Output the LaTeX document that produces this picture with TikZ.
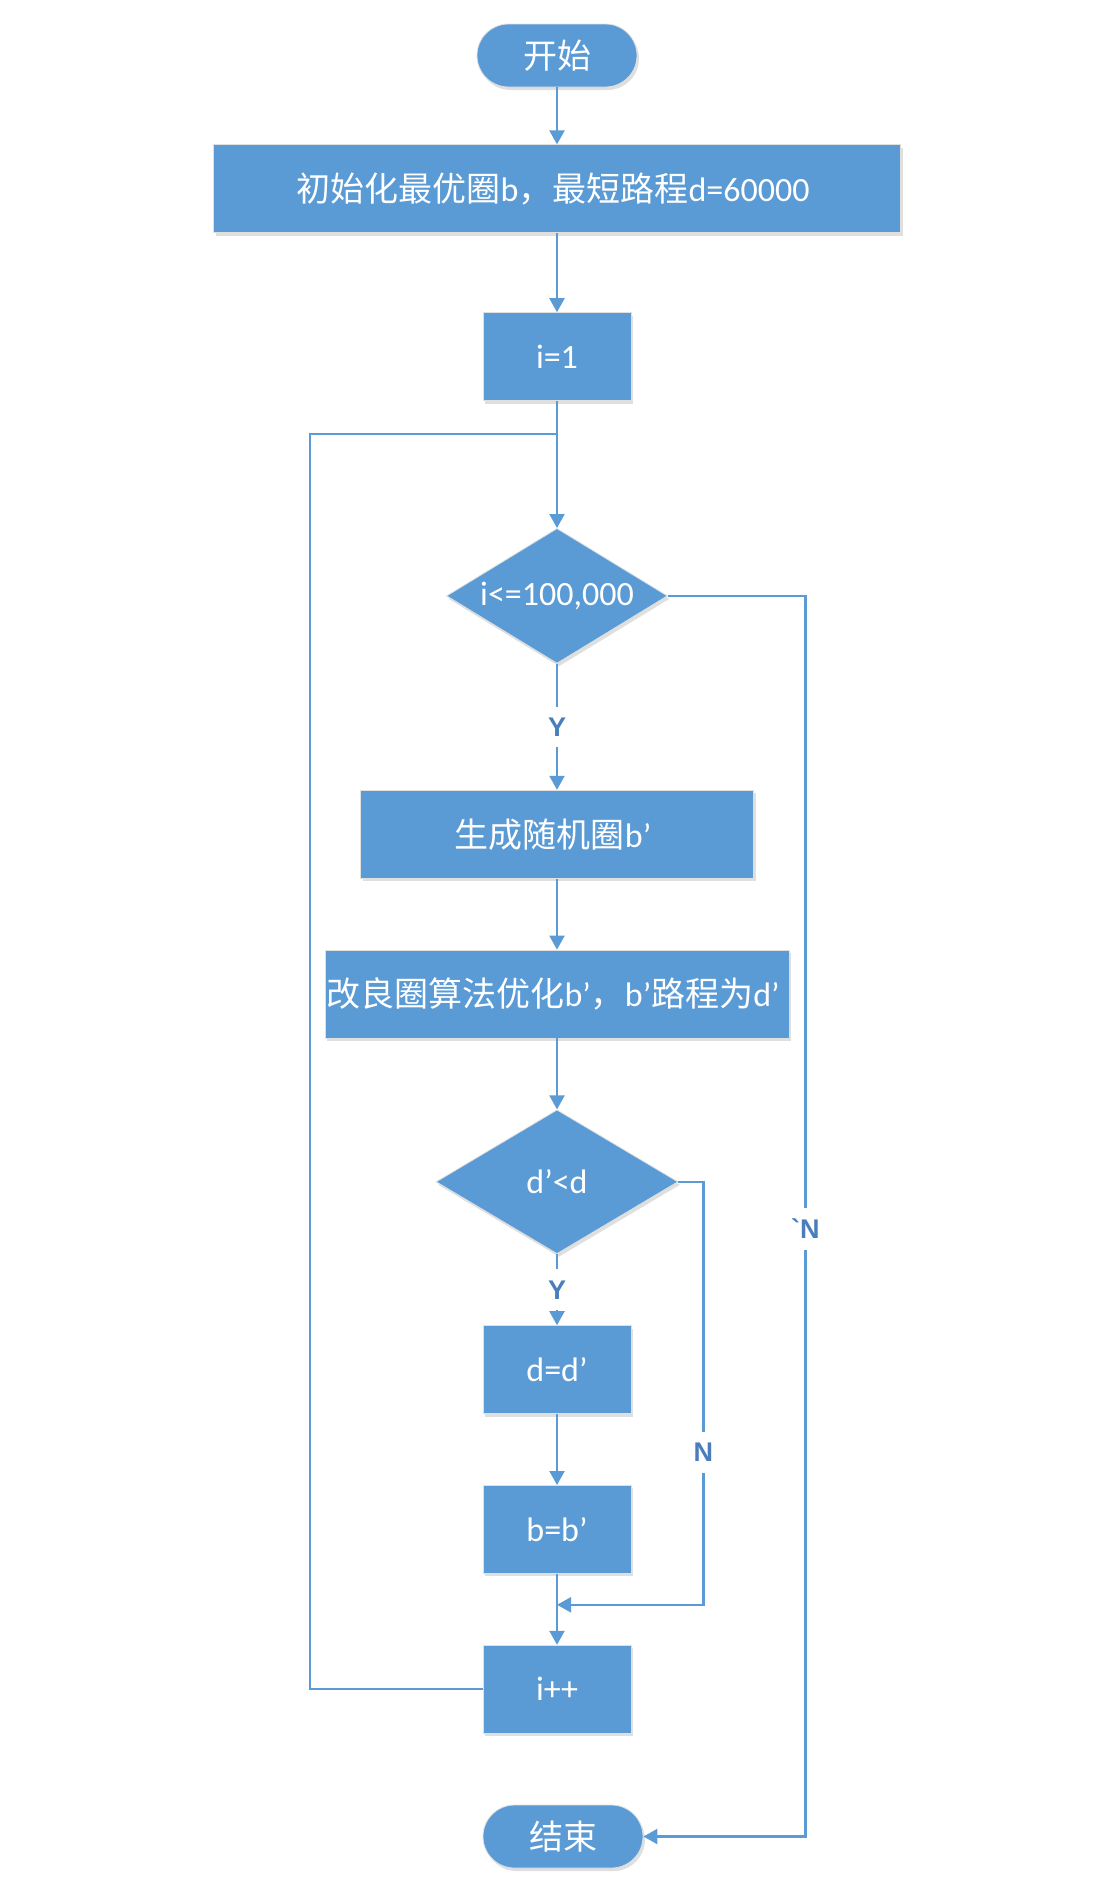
\documentclass[tikz,border=0pt]{standalone}
\usepackage{fontspec}
\setmainfont{Carlito}
\newfontfamily\cjk{Noto Sans CJK SC}
\newfontfamily\labfont{Liberation Sans}
\usetikzlibrary{arrows.meta, positioning, shapes.geometric, shadows, calc}
\definecolor{flowblue}{HTML}{5B9BD5}
\definecolor{labelblue}{HTML}{4A7EBB}

\begin{document}
\begin{tikzpicture}[
    font=\fontsize{34pt}{40pt}\selectfont,
    node distance=71pt,
    box/.style={
        draw=black!12,
        fill=flowblue,
        text=white,
        rectangle,
        minimum height=88pt,
        align=center,
        inner sep=0pt,
        line width=0.8pt,
        drop shadow={shadow xshift=2pt, shadow yshift=-3pt, opacity=0.25}
    },
    stepbox/.style={
        box,
        minimum width=148pt
    },
    terminal/.style={
        box,
        rounded corners=31.5pt,
        minimum width=160pt,
        minimum height=63pt
    },
    decision/.style={
        box,
        diamond
    },
    arrow/.style={
        -{Triangle[length=14pt,width=15pt]},
        line width=2.2pt,
        draw=flowblue
    },
    line/.style={
        line width=2.2pt,
        draw=flowblue
    },
    branch/.style={
        font=\labfont\bfseries\fontsize{27pt}{30pt}\selectfont,
        text=labelblue,
        fill=white,
        inner sep=11pt
    }
]

\useasboundingbox (0,0) rectangle (1113pt,-1887pt);

\node[terminal] (start) at (557pt,-55.5pt) {{\cjk 开始}};

\node[box, below=57pt of start, minimum width=687pt] (init) {
    {\cjk 初始化最优圈}b{\cjk ，最短路程}d=60000
};

\node[stepbox, below=79pt of init] (i1) {i=1};

\node[decision, below=127pt of i1, aspect=1.64,
      minimum width=221pt, minimum height=135pt] (cond1) {i<=100,000};

\node[box, below=126pt of cond1, minimum width=393pt] (rand) {
    {\cjk 生成随机圈}b’
};

\node[box, below=of rand, minimum width=464pt] (improve) {
    {\cjk 改良圈算法优化}b’{\cjk ，}b’{\cjk 路程为}d’
};

\node[decision, below=of improve, aspect=1.68,
      minimum width=242pt, minimum height=144pt] (cond2) {d’<d};

\node[stepbox, below=of cond2] (dset) {d=d’};
\node[stepbox, below=of dset] (bset) {b=b’};
\node[stepbox, below=of bset] (inc) {i++};

\node[terminal, below=71pt of inc, xshift=6pt] (stop) {{\cjk 结束}};

\coordinate (join) at ([yshift=-33pt]i1.south);
\coordinate (merge) at ([yshift=-31pt]bset.south);

\draw[arrow] (start) -- (init);
\draw[arrow] (init) -- (i1);
\draw[arrow] (i1) -- (cond1);
\draw[arrow] (cond1) -- node[branch] {Y} (rand);
\draw[arrow] (rand) -- (improve);
\draw[arrow] (improve) -- (cond2);
\draw[arrow] (cond2) -- node[branch] {Y} (dset);
\draw[arrow] (dset) -- (bset);
\draw[arrow] (bset) -- (inc);

\draw[arrow] (cond2.east) -- ++(25pt,0) |- node[branch, pos=0.32] {N} (merge);
\draw[arrow] (cond1.east) -- ++(137.5pt,0) |- node[branch, pos=0.255] {{\char"60}N} (stop.east);
\draw[line] (inc.west) -- ++(-173pt,0) |- (join);

\end{tikzpicture}
\end{document}
